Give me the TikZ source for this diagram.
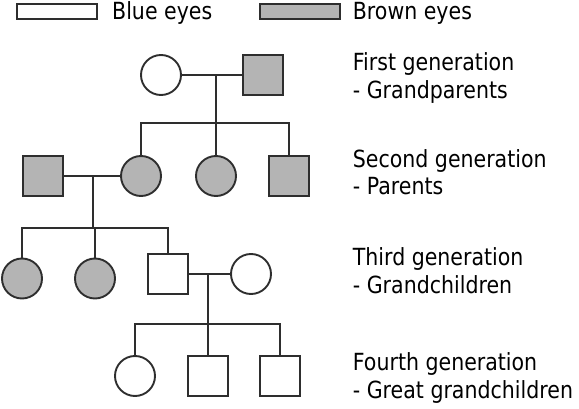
\documentclass[tikz,border=0pt]{standalone}
\usepackage{fontspec}
\setmainfont{DejaVu Sans}
\newfontfamily\genfont{DejaVu Sans}[FakeStretch=0.87]
\usepackage{tikz}
\usetikzlibrary{shapes}
\definecolor{linegray}{HTML}{2E2E2E}
\definecolor{browngray}{HTML}{B4B4B4}

\begin{document}
\begin{tikzpicture}
[x=1pt,y=-1pt]
\tikzset{
	female/.style = {circle, draw=linegray, line width=1.9pt, minimum size=40pt, inner sep=0},
	male/.style = {rectangle, draw=linegray, line width=1.9pt, minimum size=40pt, inner sep=0},
	brown/.style = {fill=browngray},
	key/.style = {rectangle, draw=linegray, line width=1.9pt, minimum width=80pt, minimum height=15pt, inner sep=0},
	link/.style = {draw=linegray, line width=1.7pt},
	gen/.style = {anchor=base west, align=left, inner sep=0, text=black, font=\genfont\fontsize{23.6}{27.7}\selectfont}
}
\useasboundingbox (0,0) rectangle (579,409);

% legend
\node(blue) [key] at (57,11.5){};
\node(bluetext) [gen] at (112,19.5){Blue eyes};
\node(brn) [key,brown] at (300,11.5){};
\node(brntext) [gen] at (352.7,19.5){Brown eyes};

% first generation
\node(gm) [female] at (161,75){};
\node(gf) [male,brown] at (263,75){};
\coordinate(m1) at (216,75);
\coordinate(b1) at (216,123);

% second generation
\node(dad) [male,brown] at (43,176){};
\node(mum) [female,brown] at (141,176){};
\node(aunt) [female,brown] at (216,176){};
\node(uncle) [male,brown] at (289,176){};
\coordinate(m2) at (93,176);
\coordinate(b2) at (93,228);

% third generation
\node(sis1) [female,brown] at (22,278.5){};
\node(sis2) [female,brown] at (95,278.5){};
\node(son) [male] at (168,274){};
\node(wife) [female] at (251,274){};
\coordinate(m3) at (208,274);
\coordinate(b3) at (208,324);

% fourth generation
\node(kid1) [female] at (135,376){};
\node(kid2) [male] at (208,376){};
\node(kid3) [male] at (280,376){};

\draw [link] (gm) -- (gf);
\draw [link] (m1) -- (b1);
\draw [link] (mum.north) |- (b1) -| (uncle.north);
\draw [link] (b1) -- (aunt.north);

\draw [link] (dad) -- (mum);
\draw [link] (m2) -- (b2);
\draw [link] (sis1.north) |- (b2) -| (son.north);
\draw [link] (sis2.north |- b2) -- (sis2.north);

\draw [link] (son) -- (wife);
\draw [link] (m3) -- (b3);
\draw [link] (kid1.north) |- (b3) -| (kid3.north);
\draw [link] (b3) -- (kid2.north);

% labels
\node(g1) [gen] at (352.7,98.3){First generation\\- Grandparents};
\node(g2) [gen] at (352.7,195){Second generation\\- Parents};
\node(g3) [gen] at (352.7,293.3){Third generation\\- Grandchildren};
\node(g4) [gen] at (352.7,398.3){Fourth generation\\- Great grandchildren};
\end{tikzpicture}
\end{document}
